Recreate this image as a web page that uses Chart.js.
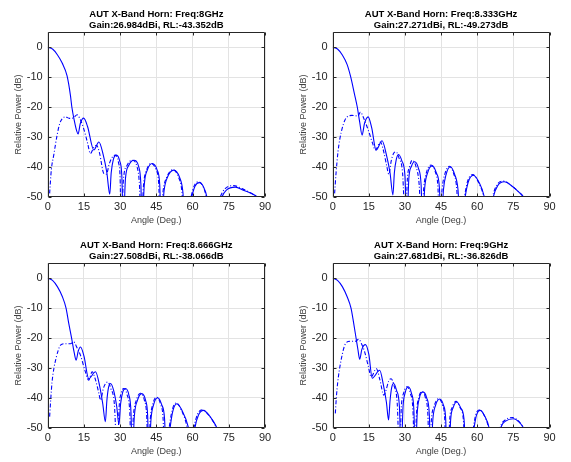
<!DOCTYPE html>
<html>
<head>
<meta charset="utf-8">
<script src="https://cdn.jsdelivr.net/npm/chart.js@4.4.0/dist/chart.umd.min.js"></script>
<style>
  html, body { margin: 0; padding: 0; background: #fff; }
  #wrap { position: relative; width: 571px; height: 462px; overflow: hidden; }
  #wrap canvas { position: absolute; }
</style>
</head>
<body>
<div id="wrap">
  <canvas id="p1" width="285" height="231" style="left:0;top:0"></canvas>
  <canvas id="p2" width="286" height="231" style="left:285px;top:0"></canvas>
  <canvas id="p3" width="285" height="231" style="left:0;top:231px"></canvas>
  <canvas id="p4" width="286" height="231" style="left:285px;top:231px"></canvas>
</div>
<script>
// Tick labels
const xTicks = [0, 15, 30, 45, 60, 75, 90];
const yTicks = [-50, -40, -30, -20, -10, 0];

// Titles
const titles1 = ['AUT X-Band Horn: Freq:8GHz', 'Gain:26.984dBi, RL:-43.352dB'];
const titles2 = ['AUT X-Band Horn: Freq:8.333GHz', 'Gain:27.271dBi, RL:-49.273dB'];
const titles3 = ['AUT X-Band Horn: Freq:8.666GHz', 'Gain:27.508dBi, RL:-38.066dB'];
const titles4 = ['AUT X-Band Horn: Freq:9GHz', 'Gain:27.681dBi, RL:-36.826dB'];

// 8 GHz - co-pol (solid)
const coAng1 = [0, 2, 4, 6, 8, 9.4, 10, 11, 12, 12.6, 13.5, 14.9, 16.5, 19.1, 21.2, 23, 24.5, 25.7,
  26.3, 27.2, 28.5, 29.8, 30.7, 31.3, 32.2, 33.6, 35.7, 37.7, 38.6, 39.1, 40, 41.3, 43.3, 45.3, 46.4, 47,
  48.2, 49.6, 52.2, 54.6, 56, 56.9, 58.3, 59.7, 61, 62.8, 64.6, 65.9, 67, 69, 72.2, 74, 77.7, 81, 84, 86.7, 90];
const coPow1 = [0, -0.6, -2.5, -5.3, -9.5, -16, -20, -24.5, -28, -29, -25.5, -23.7, -26.5, -34.4, -31.7, -36, -42, -49.2,
  -42, -37.5, -36.1, -38, -43, -60, -44, -39.5, -37.8, -40, -46, -60, -46, -41, -38.9, -41, -46, -60,
  -48, -43.5, -41.1, -43.5, -48.5, -60, -56, -50, -46.5, -45.3, -46.8, -50, -56, -58, -50, -47.8, -46.8, -47.8, -48.8, -50, -53];
// 8 GHz - cross-pol (dash-dot)
const xpAng1 = [0.8, 1.5, 2.5, 3.9, 5, 6, 7.3, 9, 10.5, 12.2, 13.5, 14.9, 16.5, 17.7, 19, 20.2, 21.5, 23.2, 24.3,
  25.5, 27, 28, 29.3, 30, 30.4, 31.4, 32.9, 35, 37, 38, 38.7, 39.7, 41, 42.9, 44.9, 46, 46.5,
  47.8, 49.3, 51.8, 54.2, 55.6, 56.5, 58, 59.4, 60.7, 62.5, 64.3, 65.7, 67, 69, 71.5, 73.5, 77, 80.5, 83.5, 86.5, 90];
const xpPow1 = [-48.9, -41, -36.1, -29.4, -25.5, -23.9, -23.3, -23.8, -23.7, -22.6, -24.2, -27.2, -32, -35.6, -33.6, -32.8, -35.5, -42.2, -42.5,
  -39, -36.5, -36.1, -38.5, -44, -60, -44, -39.5, -37.8, -40, -46, -60, -46, -41, -38.9, -41, -46, -60,
  -48, -43.5, -41, -43.5, -48.5, -60, -56, -50, -46.3, -45, -46.5, -50, -56, -57, -50, -47.3, -46.3, -47.3, -48.5, -50, -53];

// 8.333 GHz - co-pol
const coAng2 = [0, 2, 4, 6, 7.5, 9, 10.2, 11.2, 12.2, 13.2, 14.7, 16.2, 18, 20.5, 22.3, 23.8, 25,
  25.6, 26.4, 27.4, 28.7, 30, 30.8, 31.6, 32.7, 34, 35.6, 36.7, 37.3, 38.2, 39.4, 41.2, 43, 44.3, 45,
  46, 47.1, 48.8, 50.6, 52, 53, 54, 55, 56.3, 58.4, 60.6, 62.9, 64, 65.5, 66.7, 68.5, 71.2, 74.5, 77, 79.2, 81, 90];
const coPow2 = [0, -0.6, -2.6, -5.8, -10, -15.5, -20, -25, -29.4, -25.5, -23.3, -27, -34.4, -31.3, -36, -42, -49.4,
  -42, -37.5, -35.9, -38, -43, -60, -44, -39.8, -38.3, -40.5, -46, -60, -47, -42, -39.7, -42, -47, -60,
  -47.5, -42.5, -40, -42.5, -47.5, -60, -56, -50, -45, -42.8, -45, -50, -56, -56, -50, -46.3, -45, -46.5, -48.3, -50, -53, -60];
// 8.333 GHz - cross-pol
const xpAng2 = [0.8, 1.4, 2.2, 3, 3.9, 5, 6, 8, 10.5, 11.5, 13, 15, 16.5, 17.7, 19.8, 21.2, 22.5, 23.3,
  24.3, 25.3, 26.3, 27.5, 29, 30.2, 31, 31.9, 33, 34.6, 35.9, 36.8, 37.8, 39, 40.8, 42.6, 43.7, 44.3,
  45.4, 46.6, 48.4, 50.2, 51.5, 52.3, 53.6, 54.7, 56, 58.2, 60.4, 62.7, 64, 65.2, 66.4, 68.2, 71, 74.2, 77, 79, 81, 90];
const xpPow2 = [-48.9, -42, -35, -30.5, -27.2, -24.5, -23.3, -22.8, -23, -21.7, -24, -28.3, -32, -34.4, -31.7, -35, -40, -42.5,
  -38, -35.5, -35, -37, -42, -60, -44, -40, -37.8, -40, -46, -60, -47, -41.7, -39.4, -41.7, -47, -60,
  -47.5, -42.3, -39.8, -42.3, -47.5, -60, -56, -50, -44.8, -42.6, -45, -50, -56, -56, -50, -46, -44.8, -46.3, -48.2, -50, -53, -60];

// 8.666 GHz - co-pol
const coAng3 = [0, 2, 4, 6, 7.6, 8.7, 9.9, 11, 11.8, 12.6, 13.6, 15, 17, 19.8, 21.5, 22.8, 23.9,
  24.5, 25.2, 26, 27.3, 28.6, 29.5, 30.2, 31.1, 32.2, 33.6, 34.5, 35, 35.9, 37.2, 38.9, 40.6, 41.4, 41.9,
  42.8, 43.9, 45.5, 47.2, 48.4, 49.1, 49.9, 50.7, 51.8, 53.5, 55.6, 58.3, 59.5, 60.2, 61, 62.5, 64.5, 66.8, 68.5, 70, 71.5, 90];
const coPow3 = [0, -0.7, -2.8, -6, -10, -15, -20, -25, -27.4, -24.5, -23, -26, -33.6, -31.3, -36, -42, -48,
  -41, -36.5, -35.2, -37.5, -43, -48.9, -42, -38, -36.9, -39, -45, -60, -46, -40.8, -38.6, -41, -46, -60,
  -47, -42.2, -40, -42.3, -47, -60, -56, -50, -44.5, -42, -44.2, -50, -56, -56, -50, -45.7, -44.2, -45.8, -47.8, -50, -55, -62];
// 8.666 GHz - cross-pol
const xpAng3 = [0.8, 1.3, 1.8, 2.6, 3.6, 4.4, 5.3, 7.3, 9.4, 10.8, 12, 13.6, 15.3, 17, 18.4, 19.8, 21.2, 21.9,
  23, 24, 24.9, 26.2, 27.6, 28.8, 29.6, 30.4, 31.5, 32.9, 34, 34.6, 35.5, 36.7, 38.4, 40.1, 41, 41.6,
  42.5, 43.5, 45, 46.8, 47.8, 48.4, 49.3, 50.3, 51.5, 53.2, 55.3, 57.8, 59, 59.7, 60.6, 62.1, 64.2, 66.5, 68.3, 69.8, 71.5, 90];
const xpPow3 = [-46.3, -40, -34.7, -30, -26.3, -24, -22.4, -21.9, -21.9, -21.3, -23, -25.8, -30.5, -34.1, -31.3, -34, -38.5, -40.8,
  -37, -35.2, -34.7, -37, -42, -60, -43, -38.5, -36.9, -39, -45, -60, -46, -40.8, -38.5, -41, -46, -60,
  -47, -42.2, -39.8, -42.3, -47, -60, -56, -50, -44.3, -41.7, -44, -50, -56, -56, -50, -45.4, -44, -45.6, -47.6, -50, -55, -62];

// 9 GHz - co-pol
const coAng4 = [0, 2, 4, 6, 7.6, 8.7, 9.7, 10.5, 11.2, 12.1, 13.6, 15, 16.4, 19.5, 21, 22.3, 23.2,
  23.8, 24.5, 25.3, 26.5, 27.7, 28.4, 29.2, 30.1, 31.3, 32.7, 33.7, 34.3, 35.1, 36, 37.4, 39, 40.1, 40.7,
  41.6, 42.7, 44.4, 46, 46.9, 47.4, 48.2, 49, 50, 51.5, 53.1, 54.5, 55.5, 57.7, 58.7, 59.7, 61.2, 62.9, 64.9, 66,
  68.5, 69.8, 71.8, 75, 77.5, 79.2, 81, 90];
const coPow4 = [0, -0.7, -2.8, -6.2, -10, -15, -20, -24, -27.1, -23.8, -22.2, -25.5, -33.4, -30.8, -35.5, -41.5, -47.4,
  -41, -36.5, -35.2, -37.5, -43, -60, -43, -38.3, -36.3, -38.5, -44, -60, -45, -40, -38, -40, -45.5, -60,
  -47, -42.5, -40.4, -42.5, -47, -60, -60, -47, -43.3, -41.4, -43.3, -47, -60, -56, -50, -45.8, -44.2, -45.8, -50, -56,
  -56, -50, -47.8, -47, -48.2, -50, -53, -60];
// 9 GHz - cross-pol
const xpAng4 = [1.1, 1.5, 2.1, 2.8, 3.6, 4.4, 5.3, 7.3, 9.4, 10.8, 12, 13.3, 14.8, 16, 18.1, 19.6, 21.2,
  22.3, 23.2, 24.2, 25.5, 26.8, 27.7, 28.5, 29.5, 30.8, 32.2, 33.3, 34, 34.8, 35.7, 36.9, 38.5, 39.5, 40.1,
  41, 42.2, 44, 45.6, 46.5, 47, 47.8, 48.6, 49.6, 51.2, 52.8, 54.2, 55.2, 57.4, 58.4, 59.4, 61, 62.7, 64.7, 66,
  68.2, 69.5, 71.5, 74.7, 77.3, 79.2, 81, 90];
const xpPow4 = [-45.2, -40, -34.7, -30.5, -26.9, -24, -21.9, -21.1, -21.1, -20.4, -22, -24.7, -29.5, -33, -30.2, -34, -39.1,
  -37, -34.5, -33.6, -36, -42, -60, -43, -38.3, -36.3, -38.5, -44, -60, -45, -40, -38, -40, -45.5, -60,
  -47, -42.5, -40.3, -42.5, -47, -60, -60, -47, -43.2, -41.2, -43.2, -47, -60, -56, -50, -45.6, -44, -45.6, -50, -56,
  -56, -50, -47.5, -46.6, -47.9, -50, -53, -60];

const panels = [
  { id: 'p1', title: titles1, co: [coAng1, coPow1], xp: [xpAng1, xpPow1], padRight: 20 },
  { id: 'p2', title: titles2, co: [coAng2, coPow2], xp: [xpAng2, xpPow2], padRight: 21.5 },
  { id: 'p3', title: titles3, co: [coAng3, coPow3], xp: [xpAng3, xpPow3], padRight: 20 },
  { id: 'p4', title: titles4, co: [coAng4, coPow4], xp: [xpAng4, xpPow4], padRight: 21.5 }
];

const axisColor = '#262626';
const gridColor = '#e3e3e3';
const lineColor = '#0000ff';
const fontFamily = 'Liberation Sans, Arial, sans-serif';

function toPoints(ang, pow) {
  return ang.map((a, i) => ({ x: a, y: pow[i] }));
}

// box around plot area with inward ticks (matlab style)
const framePlugin = {
  id: 'frame',
  afterDatasetsDraw(chart) {
    const { ctx, chartArea: a, scales: { x, y } } = chart;
    const l = Math.round(a.left) + 0.5, r = Math.round(a.right) - 0.5;
    const t = Math.round(a.top) + 0.5, b = Math.round(a.bottom) - 0.5;
    ctx.save();
    ctx.strokeStyle = axisColor;
    ctx.lineWidth = 1;
    ctx.beginPath();
    ctx.rect(l, t, r - l, b - t);
    xTicks.forEach(v => {
      const px = Math.round(x.getPixelForValue(v)) + 0.5;
      ctx.moveTo(px, b); ctx.lineTo(px, b - 3);
      ctx.moveTo(px, t); ctx.lineTo(px, t + 3);
    });
    yTicks.forEach(v => {
      const py = Math.round(y.getPixelForValue(v)) + 0.5;
      ctx.moveTo(l, py); ctx.lineTo(l + 3, py);
      ctx.moveTo(r, py); ctx.lineTo(r - 3, py);
    });
    ctx.stroke();
    ctx.restore();
  }
};

function makeChart(p) {
  const ctx = document.getElementById(p.id).getContext('2d');
  return new Chart(ctx, {
    type: 'line',
    data: {
      datasets: [
        {
          data: toPoints(p.co[0], p.co[1]),
          borderColor: lineColor,
          borderWidth: 1.1,
          cubicInterpolationMode: 'monotone'
        },
        {
          data: toPoints(p.xp[0], p.xp[1]),
          borderColor: lineColor,
          borderWidth: 1.1,
          borderDash: [4, 2, 1, 2],
          cubicInterpolationMode: 'monotone'
        }
      ]
    },
    options: {
      responsive: false,
      animation: false,
      devicePixelRatio: 1,
      layout: { padding: { left: 0, right: p.padRight, top: 0, bottom: 0 } },
      elements: { point: { radius: 0 } },
      plugins: {
        legend: { display: false },
        tooltip: { enabled: false },
        title: {
          display: true,
          fullSize: false,
          text: p.title,
          color: '#000',
          font: { family: fontFamily, size: 9.5, weight: 'bold', lineHeight: 1.105 },
          padding: { top: 9.25, bottom: 2.05 }
        }
      },
      scales: {
        x: {
          type: 'linear',
          min: 0,
          max: 90,
          afterBuildTicks: s => { s.ticks = xTicks.map(v => ({ value: v })); },
          afterFit: s => { s.height = 34.3; },
          grid: { color: gridColor, drawTicks: false },
          border: { display: false },
          ticks: {
            color: axisColor,
            padding: 4,
            font: { family: fontFamily, size: 11 }
          },
          title: {
            display: true,
            text: 'Angle (Deg.)',
            color: '#404040',
            font: { family: fontFamily, size: 9 },
            padding: { top: 0, bottom: 5 }
          }
        },
        y: {
          min: -50,
          max: 5,
          afterBuildTicks: s => { s.ticks = yTicks.map(v => ({ value: v })); },
          afterFit: s => { s.width = 47.7; },
          grid: { color: gridColor, drawTicks: false },
          border: { display: false },
          ticks: {
            color: axisColor,
            padding: 5,
            font: { family: fontFamily, size: 11 }
          },
          title: {
            display: true,
            text: 'Relative Power (dB)',
            color: '#404040',
            font: { family: fontFamily, size: 9 },
            padding: { top: 13, bottom: 0 }
          }
        }
      }
    },
    plugins: [framePlugin]
  });
}

panels.forEach(makeChart);
</script>
</body>
</html>
